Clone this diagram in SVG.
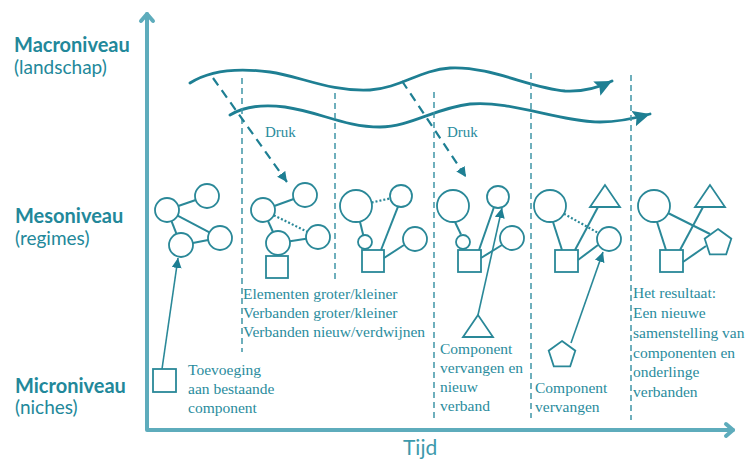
<svg xmlns="http://www.w3.org/2000/svg" width="754" height="462" viewBox="0 0 754 462">
<defs>
<style>
.lvl{font-family:Lato,"Noto Sans",sans-serif;font-weight:700;font-size:20px;fill:#22889a}
.sub{font-family:Lato,"Noto Sans",sans-serif;font-size:19px;fill:#22889a}
.txt{font-family:"Liberation Serif","DejaVu Serif",serif;font-size:15.5px;fill:#2a8c9d}
.axis{fill:none;stroke:#5eacbc;stroke-width:4;stroke-linecap:round;stroke-linejoin:round}
.wave{fill:none;stroke:#1e7f93;stroke-width:2.8;stroke-linecap:round}
.vdash{fill:none;stroke:#3f95a7;stroke-width:1.5;stroke-dasharray:6 4}
.druk{fill:none;stroke:#1e7f93;stroke-width:2.2;stroke-dasharray:9 6}
.shape{fill:none;stroke:#2a8898;stroke-width:1.8}
.link{fill:none;stroke:#2a8898;stroke-width:2}
.dot{fill:none;stroke:#2a8898;stroke-width:2.2;stroke-dasharray:2 2}
.arr{fill:none;stroke:#2a8898;stroke-width:1.6}
</style>
<marker id="bigHead" markerUnits="userSpaceOnUse" markerWidth="20" markerHeight="18" refX="17" refY="8" orient="auto">
<path d="M0,0 L17,8 L0,16 L3,8 Z" fill="#1e7f93"/>
</marker>
<marker id="smallHead" markerUnits="userSpaceOnUse" markerWidth="12" markerHeight="12" refX="10" refY="5" orient="auto">
<path d="M0,0 L10,5 L0,10 Z" fill="#1e7f93"/>
</marker>
</defs>
<rect width="754" height="462" fill="#ffffff"/>

<g id="axes">
<polyline class="axis" points="147,14 147,430 733,430"/>
<polyline class="axis" points="141,21 147,14 153,21" stroke-width="3.5"/>
<polyline class="axis" points="726,424 733,430 726,436" stroke-width="3.5"/>
<text x="403" y="455" style="font-family:Lato,'Noto Sans',sans-serif;font-size:21px;fill:#3d9aac">Tijd</text>
</g>

<g id="levels">
<text class="lvl" x="14" y="52">Macroniveau</text>
<text class="sub" x="14" y="74">(landschap)</text>
<text class="lvl" x="15" y="223">Mesoniveau</text>
<text class="sub" x="15" y="245">(regimes)</text>
<text class="lvl" x="15" y="393">Microniveau</text>
<text class="sub" x="15" y="414">(niches)</text>
</g>

<g id="connectors">
<g id="waves">
<path class="wave" d="M190,83 C210,70 240,68 270,72 C300,76 330,92 370,90 C400,88 420,70 450,68 C490,66 530,88 565,91 C585,92 600,87 612,81" marker-end="url(#bigHead)"/>
<path class="wave" d="M230,115 C245,106 262,104 285,107 C320,112 345,127 380,127 C410,127 435,108 470,104 C510,100 560,122 600,122 C620,122 636,118 650,114" marker-end="url(#bigHead)"/>
</g>
<g id="time-dividers">
<line class="vdash" x1="242" y1="78" x2="242" y2="352"/>
<line class="vdash" x1="335" y1="93" x2="335" y2="282"/>
<line class="vdash" x1="434" y1="92" x2="434" y2="418"/>
<line class="vdash" x1="531" y1="73" x2="531" y2="418"/>
<line class="vdash" x1="631" y1="75" x2="631" y2="420"/>
</g>
<g id="pressure">
<line class="druk" x1="213" y1="78" x2="287" y2="182" marker-end="url(#smallHead)"/>
<line class="druk" x1="402" y1="81" x2="466" y2="177" marker-end="url(#smallHead)"/>
<text class="txt" x="265" y="137" style="font-size:15px">Druk</text>
<text class="txt" x="447" y="137" style="font-size:15px">Druk</text>
</g>
<g id="micro-arrows">
<line class="arr" x1="162" y1="369" x2="178" y2="258" marker-end="url(#smallHead)"/>
<line class="arr" x1="478" y1="315" x2="502" y2="208" marker-end="url(#smallHead)"/>
<line class="arr" x1="571" y1="343" x2="603" y2="252" marker-end="url(#smallHead)"/>
</g>
</g>

<g id="regime-1">
<line class="link" x1="178.3" y1="206" x2="195.7" y2="200"/>
<line class="link" x1="171.5" y1="221.1" x2="176.5" y2="233.9"/>
<line class="link" x1="177.6" y1="215.6" x2="209.4" y2="232.4"/>
<line class="link" x1="192.8" y1="242.9" x2="208.2" y2="240.1"/>
<circle class="shape" cx="167" cy="210" r="12"/>
<circle class="shape" cx="207" cy="196" r="12"/>
<circle class="shape" cx="181" cy="245" r="12"/>
<circle class="shape" cx="220" cy="238" r="12"/>
</g>

<g id="regime-2">
<line class="link" x1="274.3" y1="206" x2="293.7" y2="199"/>
<line class="dot" x1="273.8" y1="215.3" x2="307.2" y2="231.7"/>
<line class="link" x1="268" y1="221" x2="273" y2="232"/>
<line class="link" x1="289.9" y1="241.2" x2="306.1" y2="238.8"/>
<circle class="shape" cx="263" cy="210" r="12"/>
<circle class="shape" cx="305" cy="195" r="12"/>
<circle class="shape" cx="278" cy="243" r="12"/>
<circle class="shape" cx="318" cy="237" r="12"/>
<rect class="shape" x="266" y="256" width="22" height="22"/>
</g>

<g id="regime-3">
<line class="dot" x1="371.6" y1="202.5" x2="390.3" y2="198.4"/>
<line class="link" x1="359.9" y1="221.5" x2="363.3" y2="235.2"/>
<line class="link" x1="398" y1="206.6" x2="381" y2="250"/>
<line class="link" x1="384" y1="258" x2="404" y2="245"/>
<circle class="shape" cx="356" cy="206" r="16"/>
<circle class="shape" cx="401" cy="196" r="11"/>
<circle class="shape" cx="365" cy="242" r="7"/>
<circle class="shape" cx="415" cy="239" r="12"/>
<rect class="shape" x="362" y="250" width="22" height="22"/>
</g>

<g id="regime-4">
<line class="link" x1="455" y1="222" x2="461" y2="234.5"/>
<line class="link" x1="479" y1="250" x2="494" y2="207"/>
<line class="link" x1="481" y1="258" x2="502" y2="245"/>
<circle class="shape" cx="453" cy="206" r="16"/>
<circle class="shape" cx="498" cy="197" r="11"/>
<circle class="shape" cx="463" cy="242" r="7"/>
<circle class="shape" cx="512" cy="238" r="12"/>
<rect class="shape" x="458" y="250" width="23" height="22"/>
</g>

<g id="regime-5">
<line class="link" x1="553" y1="222" x2="562" y2="250"/>
<line class="dot" x1="564" y1="213.8" x2="598.5" y2="233.1"/>
<line class="link" x1="575" y1="250" x2="598" y2="207"/>
<line class="link" x1="578" y1="260" x2="598" y2="245"/>
<circle class="shape" cx="550" cy="206" r="16"/>
<polygon class="shape" points="605,185 590,207 620,207"/>
<circle class="shape" cx="609" cy="239" r="12"/>
<rect class="shape" x="555" y="250" width="23" height="22"/>
</g>

<g id="regime-6">
<line class="link" x1="657" y1="222" x2="666" y2="250"/>
<line class="link" x1="668" y1="213" x2="710" y2="234"/>
<line class="link" x1="680" y1="250" x2="703" y2="207"/>
<line class="link" x1="683" y1="262" x2="706" y2="246"/>
<circle class="shape" cx="654" cy="206" r="16"/>
<polygon class="shape" points="710,185 695,207 725,207"/>
<polygon class="shape" points="718,229 731.3,238.7 726.2,254.3 709.8,254.3 704.7,238.7"/>
<rect class="shape" x="660" y="250" width="23" height="22"/>
</g>

<g id="niche-1">
<rect class="shape" x="153" y="369" width="23" height="23"/>
<text class="txt" x="188" y="375">Toevoeging</text>
<text class="txt" x="188" y="394">aan bestaande</text>
<text class="txt" x="188" y="413">component</text>
</g>

<g id="note-2">
<text class="txt" x="243" y="299">Elementen groter/kleiner</text>
<text class="txt" x="243" y="318">Verbanden groter/kleiner</text>
<text class="txt" x="243" y="337">Verbanden nieuw/verdwijnen</text>
</g>

<g id="niche-4">
<polygon class="shape" points="478,315 463,337 493,337"/>
<text class="txt" x="440" y="354">Component</text>
<text class="txt" x="440" y="373">vervangen en</text>
<text class="txt" x="440" y="392">nieuw</text>
<text class="txt" x="440" y="411">verband</text>
</g>

<g id="niche-5">
<polygon class="shape" points="562,341 575.3,350.7 570.2,366.3 553.8,366.3 548.7,350.7"/>
<text class="txt" x="535" y="393">Component</text>
<text class="txt" x="535" y="412">vervangen</text>
</g>

<g id="result">
<text class="txt" x="633" y="298">Het resultaat:</text>
<text class="txt" x="633" y="318">Een nieuwe</text>
<text class="txt" x="633" y="338">samenstelling van</text>
<text class="txt" x="633" y="358">componenten en</text>
<text class="txt" x="633" y="377">onderlinge</text>
<text class="txt" x="633" y="397">verbanden</text>
</g>
</svg>
